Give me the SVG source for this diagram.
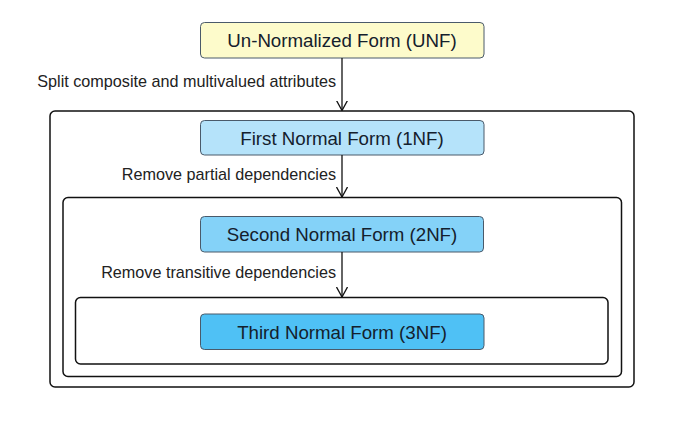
<svg xmlns="http://www.w3.org/2000/svg" width="693" height="422" viewBox="0 0 693 422">
<style>
.bg{fill:#ffffff}
.container{fill:#ffffff;stroke:#111111;stroke-width:1.5}
.node rect{stroke:#4a5a6a;stroke-width:1}
.node text{font-family:"Liberation Sans",Arial,sans-serif;font-size:18.7px;fill:#14202c;text-anchor:middle}
.lbl{font-family:"Liberation Sans",Arial,sans-serif;font-size:16.2px;fill:#222222;text-anchor:end}
.edge{stroke:#111111;stroke-width:1.3;fill:none}
</style>
<defs>
<marker id="arr" viewBox="0 0 10 12" refX="10" refY="6" markerWidth="10" markerHeight="12" markerUnits="userSpaceOnUse" orient="auto">
<path d="M0,0.5 L10,6 L0,11.5" fill="none" stroke="#111111" stroke-width="1.3"/>
</marker>
</defs>
<rect class="bg" x="0" y="0" width="693" height="422"/>
<g id="containers">
<rect id="c1" class="container" x="50" y="111" width="584" height="276" rx="5"/>
<rect id="c2" class="container" x="63" y="197.5" width="558.5" height="179" rx="5"/>
<rect id="c3" class="container" x="75.5" y="297.5" width="532.5" height="66.5" rx="5"/>
</g>
<g id="unf" class="node">
<rect x="200.5" y="22.5" width="283.5" height="35.5" rx="4" fill="#fdfbcb"/>
<text x="342" y="47">Un-Normalized Form (UNF)</text>
</g>
<g id="nf1" class="node">
<rect x="200.5" y="120.5" width="283.5" height="34.5" rx="4" fill="#b5e3fa"/>
<text x="342" y="144.5">First Normal Form (1NF)</text>
</g>
<g id="nf2" class="node">
<rect x="200.5" y="216.5" width="283" height="35.5" rx="4" fill="#84d2f8"/>
<text x="342" y="241">Second Normal Form (2NF)</text>
</g>
<g id="nf3" class="node">
<rect x="200.5" y="314" width="283.5" height="35.5" rx="4" fill="#4fc1f5"/>
<text x="342" y="339">Third Normal Form (3NF)</text>
</g>
<g id="connectors">
<line class="edge" x1="342" y1="58" x2="342" y2="110.5" marker-end="url(#arr)"/>
<line class="edge" x1="342" y1="155" x2="342" y2="197" marker-end="url(#arr)"/>
<line class="edge" x1="342" y1="252" x2="342" y2="297" marker-end="url(#arr)"/>
<text class="lbl" x="336" y="87">Split composite and multivalued attributes</text>
<text class="lbl" x="336" y="179.5">Remove partial dependencies</text>
<text class="lbl" x="336" y="278">Remove transitive dependencies</text>
</g>
</svg>
